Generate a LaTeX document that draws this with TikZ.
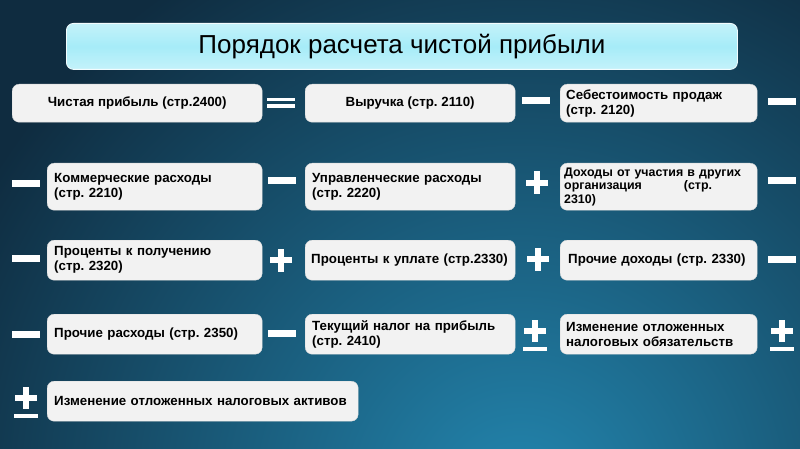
\documentclass[tikz,border=0pt]{standalone}
\usepackage{fontspec}
\setmainfont{Liberation Sans}
\newfontfamily\titlefont{Liberation Sans}
\frenchspacing
\usetikzlibrary{positioning}
\definecolor{bgin}{HTML}{2386AF}
\definecolor{bgout}{HTML}{0F2C40}
\definecolor{boxfill}{HTML}{F2F2F2}
\definecolor{titletop}{HTML}{C4F2FA}
\definecolor{titlemid}{HTML}{A6ECF8}
\tikzset{
  cell/.style={anchor=north west, fill=boxfill, draw=white!85!black, line width=0.4pt,
    rounded corners=7pt, inner xsep=7pt, inner ysep=2pt, font=\bfseries\fontsize{13.3}{15}\selectfont,
    text=black},
  sym/.style={fill=white, draw=none}
}
\newcommand{\symminus}[2]{\fill[sym] (#1,#2-3.5) rectangle (#1+28,#2+3.5);}
\newcommand{\symeq}[2]{\fill[sym] (#1,#2-5) rectangle (#1+28,#2-1.5);\fill[sym] (#1,#2+1.5) rectangle (#1+28,#2+5);}
\newcommand{\symplus}[2]{\fill[sym] (#1,#2-3.2) rectangle (#1+22,#2+3.2);\fill[sym] (#1+7.8,#2-11.5) rectangle (#1+14.2,#2+11.5);}
\newcommand{\sympm}[2]{\fill[sym] (#1+1,#2-3.2) rectangle (#1+23,#2+3.2);\fill[sym] (#1+8.8,#2-11) rectangle (#1+15.2,#2+11);\fill[sym] (#1,#2+16) rectangle (#1+24,#2+19.5);}
\begin{document}
\begin{tikzpicture}[x=1pt,y=-1pt]
\useasboundingbox (0,0) rectangle (800,449);
\begin{scope}
\clip (0,0) rectangle (800,449);
\fill[bgout] (0,0) rectangle (800,449);
\shade[inner color=bgin, outer color=bgout] (520,500) circle (620);
\end{scope}
% title
\node[anchor=north west, minimum width=671pt, minimum height=46pt, rounded corners=7pt,
  top color=titletop, bottom color=titletop, middle color=titlemid, draw=white!80!titletop, line width=0.8pt,
  font=\titlefont\fontsize{26}{28}\selectfont, text=black, inner sep=0pt] (title) at (66,23) {Порядок расчета чистой прибыли};
% row 1
\node[cell, minimum width=250pt, minimum height=38pt, align=center] (a) at (12,84) {Чистая прибыль (стр.2400)};
\node[cell, minimum width=210pt, minimum height=38pt, align=center] (b) at (305,84) {Выручка (стр. 2110)};
\node[cell, minimum width=197pt, minimum height=38pt, text width=185pt, inner xsep=6pt, align=left] (c) at (560,84) {Себестоимость продаж\\(стр. 2120)};
% row 2
\node[cell, minimum width=215pt, minimum height=47pt, text width=201pt, align=left] (d) at (47,163) {Коммерческие расходы\\(стр. 2210)};
\node[cell, minimum width=210pt, minimum height=47pt, text width=196pt, align=left] (e) at (305,163) {Управленческие расходы\\(стр. 2220)};
\node[cell, minimum width=197pt, minimum height=47pt, text width=189pt, inner xsep=4pt, align=left, font=\bfseries\fontsize{12.4}{13.6}\selectfont] (f) at (560,163) {Доходы от участия в других\\организация\hspace{42pt}(стр.\\2310)};
% row 3
\node[cell, minimum width=215pt, minimum height=40pt, text width=201pt, align=left] (g) at (47,240) {Проценты к получению\\(стр. 2320)};
\node[cell, minimum width=210pt, minimum height=40pt, text width=198pt, inner xsep=6pt, align=left] (h) at (305,240) {Проценты к уплате (стр.2330)};
\node[cell, minimum width=197pt, minimum height=40pt, text width=181pt, inner xsep=8pt, align=left] (i) at (560,240) {Прочие доходы (стр. 2330)};
% row 4
\node[cell, minimum width=215pt, minimum height=40pt, text width=201pt, align=left] (j) at (47,314) {Прочие расходы (стр. 2350)};
\node[cell, minimum width=210pt, minimum height=40pt, text width=196pt, align=left] (k) at (305,314) {Текущий налог на прибыль\\(стр. 2410)};
\node[cell, minimum width=197pt, minimum height=40pt, text width=185pt, inner xsep=6pt, align=left] (l) at (560,314) {Изменение отложенных\\налоговых обязательств};
% row 5
\node[cell, minimum width=311pt, minimum height=40pt, text width=297pt, align=left] (m) at (47,381) {Изменение отложенных налоговых активов};
% operators
\symeq{267}{103}
\symminus{522}{101}
\symminus{768}{102}
\symminus{12}{184}
\symminus{268}{181}
\symplus{526}{183}
\symminus{768}{181}
\symminus{12}{258}
\symplus{270}{260}
\symplus{527}{259}
\symminus{768}{259}
\symminus{12}{334}
\symminus{268}{333}
\sympm{523}{331}
\sympm{770}{331}
\sympm{14}{398}
\end{tikzpicture}
\end{document}
